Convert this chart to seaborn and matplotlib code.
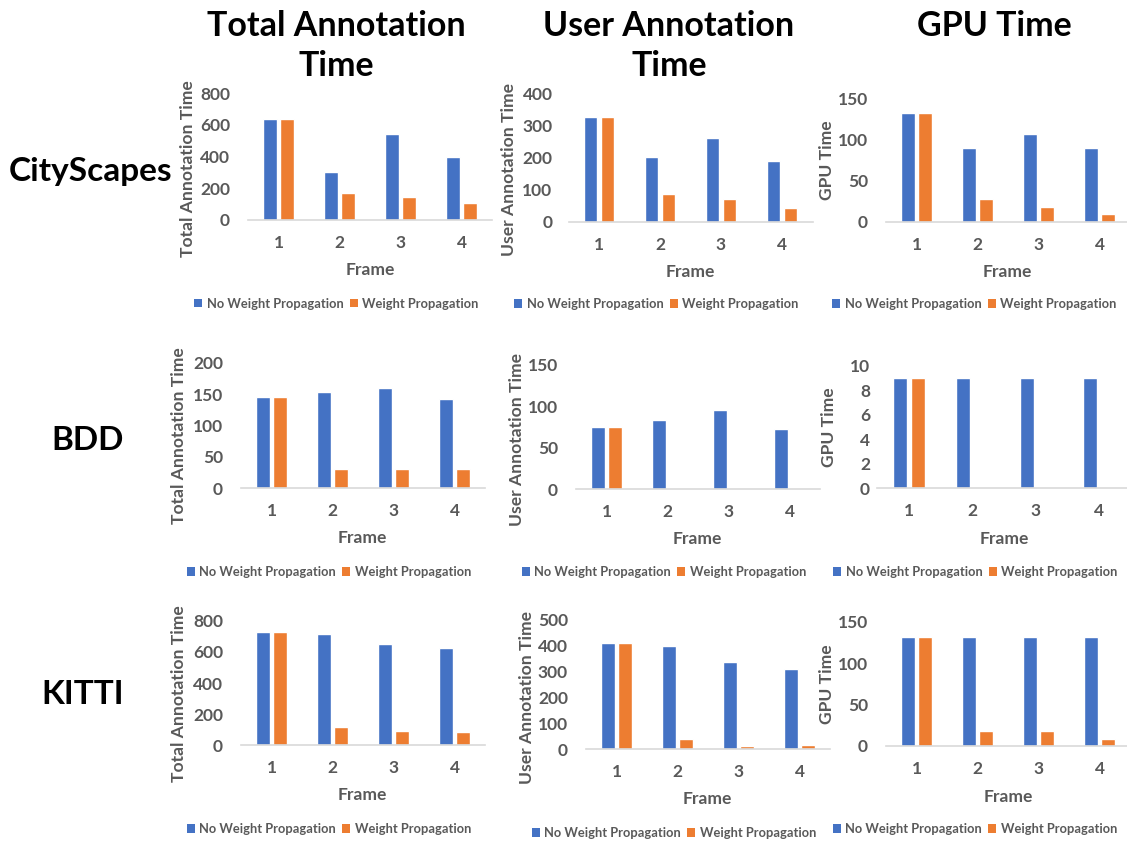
import matplotlib
matplotlib.use("Agg")
import matplotlib.pyplot as plt
from matplotlib.patches import Patch
import pandas as pd
import seaborn as sns

# ---- data -------------------------------------------------------------
frames = ["1", "2", "3", "4"]
series = ["No Weight Propagation", "Weight Propagation"]
datasets = ["CityScapes", "BDD", "KITTI"]
metrics = ["Total Annotation Time", "User Annotation Time", "GPU Time"]
column_titles = ["Total Annotation\nTime", "User Annotation\nTime", "GPU Time"]

cityscapes_total_nowp = [635, 300, 545, 395]
cityscapes_total_wp = [635, 170, 145, 108]
cityscapes_user_nowp = [325, 200, 260, 190]
cityscapes_user_wp = [325, 87, 70, 42]
cityscapes_gpu_nowp = [132, 89, 107, 89]
cityscapes_gpu_wp = [132, 28, 18, 9]

bdd_total_nowp = [145, 153, 160, 142]
bdd_total_wp = [145, 30, 30, 30]
bdd_user_nowp = [75, 83, 96, 72]
bdd_user_wp = [75, 0, 0, 0]
bdd_gpu_nowp = [9, 9, 9, 9]
bdd_gpu_wp = [9, 0, 0, 0]

kitti_total_nowp = [725, 715, 650, 625]
kitti_total_wp = [725, 118, 90, 83]
kitti_user_nowp = [411, 400, 338, 312]
kitti_user_wp = [411, 40, 13, 17]
kitti_gpu_nowp = [132, 132, 132, 132]
kitti_gpu_wp = [132, 18, 18, 9]

y_ticks = [
    [[0, 200, 400, 600, 800], [0, 100, 200, 300, 400], [0, 50, 100, 150]],
    [[0, 50, 100, 150, 200], [0, 50, 100, 150], [0, 2, 4, 6, 8, 10]],
    [[0, 200, 400, 600, 800], [0, 100, 200, 300, 400, 500], [0, 50, 100, 150]],
]

panel_values = [
    [(cityscapes_total_nowp, cityscapes_total_wp),
     (cityscapes_user_nowp, cityscapes_user_wp),
     (cityscapes_gpu_nowp, cityscapes_gpu_wp)],
    [(bdd_total_nowp, bdd_total_wp),
     (bdd_user_nowp, bdd_user_wp),
     (bdd_gpu_nowp, bdd_gpu_wp)],
    [(kitti_total_nowp, kitti_total_wp),
     (kitti_user_nowp, kitti_user_wp),
     (kitti_gpu_nowp, kitti_gpu_wp)],
]

# ---- layout (pixel geometry of each plot area) -------------------------
W, H = 1127, 841
# left, right, zero-line y, top y
rects = [
    [(248, 492, 220.0, 93.3), (568.5, 812.5, 221.7, 93.3), (886, 1130, 221.7, 98.3)],
    [(241, 485, 488.3, 362.7), (576, 820, 489.0, 365.0), (877, 1131, 488.3, 366.0)],
    [(241, 485, 745.3, 620.7), (586, 830, 749.3, 620.0), (886, 1130, 746.0, 621.7)],
]
ylabel_pos = [
    [(188, 168.5), (509, 169.5), (826.5, 160)],
    [(179, 436), (516.5, 440), (828.5, 427.5)],
    [(179, 694), (527.5, 697), (826.5, 684.5)],
]
xlabel_pos = [
    [(370, 270), (690.5, 271.7), (1007.5, 272)],
    [(362.5, 538), (697.5, 539), (1004, 539)],
    [(362.5, 795), (707.5, 799), (1008, 796.7)],
]
legend_pos = [
    [(336.5, 303.5), (656.5, 304), (974.5, 304)],
    [(329, 572), (664, 572), (975.5, 572)],
    [(329, 829), (674, 833), (975, 829)],
]
ytick_pad_px = [[18, 16, 18], [18, 18, 7], [18, 18, 18]]
title_pos = [(336, 10), (669, 10), (994, 10)]
row_label_pos = [(91, 171), (88, 441), (83, 695)]

BLUE = "#4472C4"
ORANGE = "#ED7D31"
GRAY = "#595959"
AXIS = "#D9D9D9"
FONT = ["Lato", "DejaVu Sans"]

sns.set_theme(style="white")
plt.rcParams["font.family"] = FONT

fig = plt.figure(figsize=(W / 100, H / 100), dpi=100)
fig.patch.set_facecolor("white")

px2pt = 72 / 100

for r in range(3):
    for c in range(3):
        left, right, y0, y1 = rects[r][c]
        ax = fig.add_axes([left / W, 1 - y0 / H, (right - left) / W, (y0 - y1) / H])
        nowp, wp = panel_values[r][c]
        df = pd.DataFrame({
            "Frame": frames * 2,
            "Time": list(nowp) + list(wp),
            "Series": [series[0]] * len(frames) + [series[1]] * len(frames),
        })
        sns.barplot(data=df, x="Frame", y="Time", hue="Series", order=frames,
                    hue_order=series, palette=[BLUE, ORANGE], saturation=1,
                    width=0.567, gap=0.22, legend=False, ax=ax, errorbar=None)
        ticks = y_ticks[r][c]
        ax.set_ylim(0, ticks[-1])
        ax.set_xlim(-0.5, 3.5)
        ax.set_yticks(ticks)
        ax.set_yticklabels([str(t) for t in ticks])
        ax.set_xlabel("")
        ax.set_ylabel("")
        ax.set_facecolor("none")
        for side in ["top", "right", "left"]:
            ax.spines[side].set_visible(False)
        ax.spines["bottom"].set_color(AXIS)
        ax.spines["bottom"].set_linewidth(1.2)
        ax.tick_params(axis="y", length=0, pad=ytick_pad_px[r][c] * px2pt,
                       labelsize=12.5, labelcolor=GRAY)
        ax.tick_params(axis="x", length=0, pad=15 * px2pt,
                       labelsize=12.5, labelcolor=GRAY)
        for lab in ax.get_xticklabels() + ax.get_yticklabels():
            lab.set_fontweight("bold")
        ax.grid(False)

        # axis titles
        xl, yl = ylabel_pos[r][c]
        fig.text(xl / W, 1 - yl / H, metrics[c], rotation=90, ha="center",
                 va="center", fontsize=12.6, fontweight="bold", color=GRAY)
        xx, xy = xlabel_pos[r][c]
        fig.text(xx / W, 1 - xy / H, "Frame", ha="center", va="center",
                 fontsize=12.6, fontweight="bold", color=GRAY)

        # legend below each chart
        handles = [Patch(facecolor=BLUE, edgecolor="none"),
                   Patch(facecolor=ORANGE, edgecolor="none")]
        lx, ly = legend_pos[r][c]
        fig.legend(handles, series, loc="center", ncol=2,
                   bbox_to_anchor=(lx / W, 1 - ly / H), frameon=False,
                   prop={"family": FONT, "weight": "bold", "size": 9.3},
                   labelcolor=GRAY, handlelength=0.6, handleheight=0.6,
                   handletextpad=0.35, columnspacing=0.5, borderpad=0,
                   borderaxespad=0)

# column headings
for c in range(3):
    tx, ty = title_pos[c]
    fig.text(tx / W, 1 - ty / H, column_titles[c], ha="center", va="top",
             fontsize=24.5, fontweight="bold", color="black", linespacing=1.3)

# dataset names
for r in range(3):
    rx, ry = row_label_pos[r]
    fig.text(rx / W, 1 - ry / H, datasets[r], ha="center", va="center",
             fontsize=24, fontweight="bold", color="black")

fig.savefig("out.png", dpi=100, facecolor="white")
